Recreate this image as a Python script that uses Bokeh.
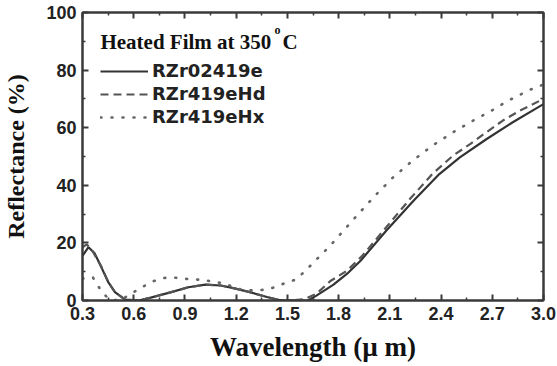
from bokeh.plotting import figure
from bokeh.models import LinearAxis, Range1d, FixedTicker, Legend, LegendItem, Label
from bokeh.embed import file_html
from bokeh.resources import INLINE

# ---- data ----
x_ticks = [0.3, 0.6, 0.9, 1.2, 1.5, 1.8, 2.1, 2.4, 2.7, 3.0]
x_tick_labels = ["0.3", "0.6", "0.9", "1.2", "1.5", "1.8", "2.1", "2.4", "2.7", "3.0"]
y_ticks = [0, 20, 40, 60, 80, 100]
y_tick_labels = ["0", "20", "40", "60", "80", "100"]

series_names = ["RZr02419e", "RZr419eHd", "RZr419eHx"]

x_solid = [0.30, 0.335, 0.37, 0.41, 0.45, 0.49, 0.55, 0.63, 0.70, 0.82, 0.92, 1.02, 1.11, 1.19,
           1.28, 1.38, 1.46, 1.55, 1.62, 1.67, 1.77, 1.85, 1.93, 2.08, 2.24, 2.39, 2.51, 2.665,
           2.82, 3.00]
y_solid = [15.5, 18.5, 16.5, 11.6, 6.5, 2.9, 0.3, 0.0, 1.0, 2.9, 4.6, 5.5, 5.2, 4.2,
           2.9, 1.2, 0.1, 0.0, 0.0, 1.7, 5.5, 9.3, 13.9, 24.3, 34.7, 43.9, 49.7, 56.0,
           61.9, 68.2]

x_dash = [0.30, 0.325, 0.36, 0.41, 0.45, 0.49, 0.55, 0.63, 0.70, 0.82, 0.92, 1.02, 1.11, 1.19,
          1.28, 1.38, 1.45, 1.52, 1.60, 1.67, 1.75, 1.85, 1.94, 2.08, 2.22, 2.35, 2.47, 2.57,
          2.665, 2.76, 2.86, 3.00]
y_dash = [18.5, 19.5, 17.0, 11.8, 6.5, 2.9, 0.3, 0.0, 1.0, 2.9, 4.6, 5.5, 5.2, 4.2,
          2.9, 1.2, 0.2, 0.0, 0.5, 2.3, 6.7, 10.4, 15.6, 25.5, 35.4, 44.0, 50.3, 54.3,
          58.4, 62.4, 65.9, 70.0]

x_dot = [0.30, 0.36, 0.39, 0.42, 0.46, 0.52, 0.60, 0.66, 0.71, 0.77, 0.83, 0.89, 0.95, 1.01,
         1.07, 1.14, 1.18, 1.24, 1.30, 1.36, 1.42, 1.48, 1.55, 1.60, 1.65, 1.70, 1.75, 1.84,
         1.93, 2.02, 2.12, 2.23, 2.35, 2.47, 2.585, 2.695, 2.80, 2.93, 3.00]
y_dot = [7.6, 8.1, 5.2, 2.5, 0.3, 0.0, 2.9, 5.0, 6.6, 7.8, 8.0, 7.6, 7.3, 7.2,
         6.4, 5.9, 4.6, 3.7, 3.5, 3.7, 4.5, 5.9, 7.3, 10.0, 13.0, 16.0, 19.0, 25.0,
         31.0, 36.8, 42.8, 48.4, 53.8, 58.4, 62.4, 65.9, 69.6, 73.4, 75.0]

# ---- figure ----
FRAME = "#3a3a3a"
p = figure(width=557, height=366, x_range=Range1d(0.3, 3.0), y_range=Range1d(0, 100),
           output_backend="svg", toolbar_location=None,
           min_border_left=82, min_border_right=14, min_border_top=12, min_border_bottom=66)
p.xgrid.visible = False
p.ygrid.visible = False
p.outline_line_color = FRAME
p.outline_line_width = 2
p.background_fill_color = "white"
p.border_fill_color = "white"

x_minor = [round(a + 0.15, 2) for a in x_ticks[:-1]]
y_minor = [t + 10 for t in y_ticks[:-1]]

def style_axis(ax, ticks, minor, labels, show_labels):
    ax.ticker = FixedTicker(ticks=ticks, minor_ticks=minor)
    ax.axis_line_color = FRAME
    ax.axis_line_width = 2
    ax.major_tick_line_color = FRAME
    ax.minor_tick_line_color = FRAME
    ax.major_tick_line_width = 2
    ax.minor_tick_line_width = 1.5
    ax.major_tick_in = 6
    ax.major_tick_out = 0
    ax.minor_tick_in = 3
    ax.minor_tick_out = 0
    if show_labels:
        ax.major_label_overrides = {t: l for t, l in zip(ticks, labels)}
        ax.major_label_text_font = "Liberation Sans"
        ax.major_label_text_font_style = "bold"
        ax.major_label_text_font_size = "18px"
        ax.major_label_text_color = "#222222"
        ax.major_label_standoff = 6
    else:
        ax.major_label_overrides = {t: "" for t in ticks}
        ax.major_label_text_font_size = "1px"
        ax.major_label_standoff = 0

style_axis(p.xaxis[0], x_ticks, x_minor, x_tick_labels, True)
style_axis(p.yaxis[0], y_ticks, y_minor, y_tick_labels, True)

p.xaxis[0].axis_label = "Wavelength (\u00b5 m)"
p.yaxis[0].axis_label = "Reflectance (%)"
for ax, sz, so in ((p.xaxis[0], "27px", 9), (p.yaxis[0], "24px", 14)):
    ax.axis_label_text_font = "Liberation Serif"
    ax.axis_label_text_font_style = "bold"
    ax.axis_label_text_font_size = sz
    ax.axis_label_text_color = "#111111"
    ax.axis_label_standoff = so

top_ax = LinearAxis()
right_ax = LinearAxis()
style_axis(top_ax, x_ticks, x_minor, x_tick_labels, False)
style_axis(right_ax, y_ticks, y_minor, y_tick_labels, False)
p.add_layout(top_ax, "above")
p.add_layout(right_ax, "right")

# ---- lines ----
r1 = p.line(x_solid, y_solid, line_color="#333333", line_width=2.2)
r2 = p.line(x_dash, y_dash, line_color="#555555", line_width=2.2, line_dash="8 5")
r3 = p.line(x_dot, y_dot, line_color="#666666", line_width=2.6, line_dash="1 10", line_cap="round")

legend = Legend(items=[LegendItem(label=series_names[0], renderers=[r1]),
                       LegendItem(label=series_names[1], renderers=[r2]),
                       LegendItem(label=series_names[2], renderers=[r3])],
                location=(18, 173), padding=0, margin=0, spacing=2,
                glyph_width=48, glyph_height=20, label_height=20, label_standoff=4,
                border_line_color=None, background_fill_alpha=0)
legend.label_text_font = "DejaVu Sans"
legend.label_text_font_style = "bold"
legend.label_text_font_size = "18px"
legend.label_text_color = "#222222"
p.add_layout(legend)

# ---- title inside the plot ----
title_font = "Liberation Serif"
p.add_layout(Label(x=0.405, y=89.6, text="Heated Film at 350", text_font=title_font,
                   text_font_style="bold", text_font_size="21px", text_color="#111111",
                   text_baseline="alphabetic"))
p.add_layout(Label(x=1.425, y=93.8, text="o", text_font=title_font,
                   text_font_style="bold", text_font_size="12px", text_color="#111111",
                   text_baseline="alphabetic"))
p.add_layout(Label(x=1.472, y=89.6, text="C", text_font=title_font,
                   text_font_style="bold", text_font_size="21px", text_color="#111111",
                   text_baseline="alphabetic"))

open("out.html", "w").write(file_html(p, INLINE))
